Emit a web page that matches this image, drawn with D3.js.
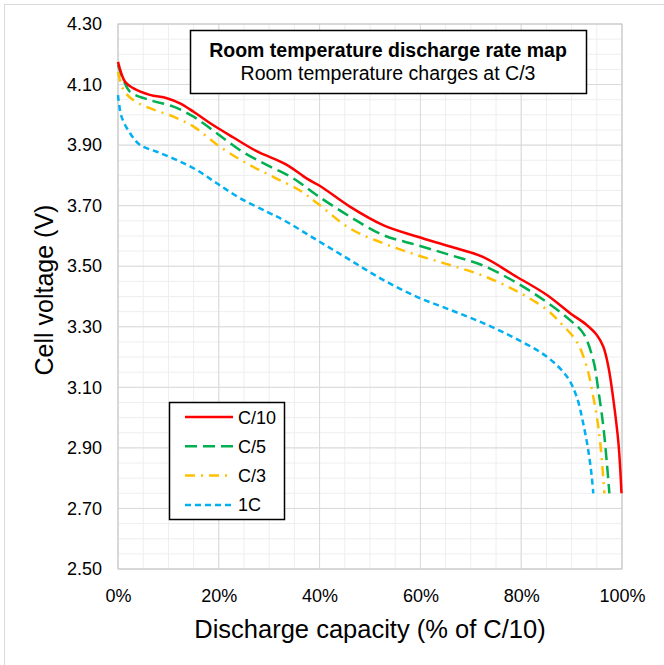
<!DOCTYPE html>
<html>
<head>
<meta charset="utf-8">
<script src="https://cdn.jsdelivr.net/npm/d3@7"></script>
<style>
  body { margin: 0; background: #fff; }
  text { font-family: "Liberation Sans", Arial, sans-serif; fill: #000; }
</style>
</head>
<body>
<svg id="chart" width="664" height="665"></svg>
<script>
const width = 664;
const height = 665;

// discharge capacity (% of C/10) and cell voltage (V)
const c10Cap = [0, 1.4, 3.0, 6.3, 9.7, 12.3, 15, 18.3, 22.9, 27.5, 33.5, 37.4, 40.1, 46.0, 52.6, 59.3, 65.9, 72.5, 78.4, 85.1, 89.7, 93.0, 95.0, 96.3, 97.3, 98.3, 99.3, 99.9];
const c10Volt = [4.175, 4.109, 4.088, 4.066, 4.055, 4.038, 4.010, 3.972, 3.925, 3.880, 3.835, 3.790, 3.765, 3.697, 3.636, 3.598, 3.565, 3.530, 3.472, 3.405, 3.345, 3.306, 3.273, 3.234, 3.168, 3.058, 2.915, 2.750];

const c5Cap = [0, 1.1, 2.4, 6.3, 11, 15, 19.6, 24.5, 29.5, 34.8, 39.4, 46, 52.6, 59.3, 65.9, 72.5, 79.1, 84.4, 89.7, 92.3, 94.3, 95.3, 96.3, 97.0, 97.5];
const c5Volt = [4.165, 4.115, 4.076, 4.049, 4.027, 3.994, 3.939, 3.880, 3.835, 3.790, 3.735, 3.664, 3.603, 3.570, 3.537, 3.502, 3.445, 3.389, 3.322, 3.279, 3.190, 3.091, 2.970, 2.849, 2.750];

const c3Cap = [0, 1.1, 3.0, 6.3, 11, 15, 20.2, 25.5, 30.8, 36.1, 39.4, 46, 52.6, 59.3, 65.9, 72.5, 79.1, 85.1, 87.5, 91, 93, 94.3, 95.3, 96, 96.5];
const c3Volt = [4.142, 4.082, 4.049, 4.022, 3.994, 3.961, 3.895, 3.840, 3.795, 3.750, 3.710, 3.625, 3.576, 3.537, 3.504, 3.468, 3.418, 3.356, 3.318, 3.251, 3.168, 3.069, 2.970, 2.860, 2.750];

const c1Cap = [0, 0.7, 2.4, 4.4, 7.7, 11.6, 15.6, 19.6, 24.2, 29.5, 32.8, 39.4, 46, 52.6, 59.3, 65.9, 72.5, 78.8, 85.1, 89.1, 91, 92.3, 93.3, 94, 94.3];
const c1Volt = [4.065, 3.994, 3.939, 3.900, 3.878, 3.851, 3.818, 3.774, 3.725, 3.680, 3.653, 3.587, 3.521, 3.455, 3.399, 3.356, 3.312, 3.262, 3.201, 3.135, 3.069, 2.981, 2.893, 2.805, 2.750];

const seriesNames = ["C/10", "C/5", "C/3", "1C"];
const seriesColors = ["#ff0000", "#00b050", "#ffc000", "#00b0f0"];
const seriesDash = [null, "12,6", "10,6,2,6", "6,4"];
const xTicks = [0, 20, 40, 60, 80, 100];
const yTicks = [2.5, 2.7, 2.9, 3.1, 3.3, 3.5, 3.7, 3.9, 4.1, 4.3];

const series = [
  { cap: c10Cap, volt: c10Volt },
  { cap: c5Cap, volt: c5Volt },
  { cap: c3Cap, volt: c3Volt },
  { cap: c1Cap, volt: c1Volt }
];

const plot = { left: 118, right: 622, top: 24, bottom: 569 };

const x = d3.scaleLinear().domain([0, 100]).range([plot.left, plot.right]);
const y = d3.scaleLinear().domain([2.5, 4.3]).range([plot.bottom, plot.top]);

const svg = d3.select('#chart');

// outer frame
svg.append('rect')
  .attr('x', 4.5).attr('y', 4.5)
  .attr('width', 700).attr('height', 700)
  .attr('fill', 'none').attr('stroke', '#d9d9d9');

// minor grid
svg.append('g')
  .selectAll('line')
  .data(d3.range(0, 101, 5))
  .join('line')
    .attr('x1', d => x(d)).attr('x2', d => x(d))
    .attr('y1', plot.top).attr('y2', plot.bottom)
    .attr('stroke', '#eeeeee');

svg.append('g')
  .selectAll('line')
  .data(d3.range(0, 37).map(i => 2.5 + i * 0.05))
  .join('line')
    .attr('x1', plot.left).attr('x2', plot.right)
    .attr('y1', d => y(d)).attr('y2', d => y(d))
    .attr('stroke', '#eeeeee');

// major grid
svg.append('g')
  .selectAll('line')
  .data(xTicks)
  .join('line')
    .attr('x1', d => x(d)).attr('x2', d => x(d))
    .attr('y1', plot.top).attr('y2', plot.bottom)
    .attr('stroke', '#d9d9d9');

svg.append('g')
  .selectAll('line')
  .data(yTicks)
  .join('line')
    .attr('x1', plot.left).attr('x2', plot.right)
    .attr('y1', d => y(d)).attr('y2', d => y(d))
    .attr('stroke', '#d9d9d9');

svg.append('rect')
  .attr('x', plot.left).attr('y', plot.top)
  .attr('width', plot.right - plot.left).attr('height', plot.bottom - plot.top)
  .attr('fill', 'none').attr('stroke', '#c8c8c8');

// axes (labels only, no domain/ticks drawn)
const xAxis = svg.append('g')
  .attr('transform', `translate(0,${plot.bottom})`)
  .call(d3.axisBottom(x).tickValues(xTicks).tickFormat(d => d + '%').tickSize(0).tickPadding(20));
const yAxis = svg.append('g')
  .attr('transform', `translate(${plot.left},0)`)
  .call(d3.axisLeft(y).tickValues(yTicks).tickFormat(d3.format('.2f')).tickSize(0).tickPadding(16));
[xAxis, yAxis].forEach(a => {
  a.select('.domain').remove();
  a.selectAll('text')
    .attr('font-family', '"Liberation Sans", Arial, sans-serif')
    .attr('font-size', 18)
    .attr('fill', '#000');
});

// axis titles
svg.append('text')
  .attr('x', (plot.left + plot.right) / 2)
  .attr('y', 638)
  .attr('text-anchor', 'middle')
  .attr('font-size', 25.5)
  .text('Discharge capacity (% of C/10)');

svg.append('text')
  .attr('transform', 'translate(53,290) rotate(-90)')
  .attr('text-anchor', 'middle')
  .attr('font-size', 25)
  .text('Cell voltage (V)');

// curves
const line = d3.line()
  .x(d => x(d[0]))
  .y(d => y(d[1]))
  .curve(d3.curveCatmullRom.alpha(0.5));

svg.append('g')
  .attr('fill', 'none')
  .selectAll('path')
  .data(series.slice().reverse())
  .join('path')
    .attr('d', s => line(s.cap.map((c, i) => [c, s.volt[i]])))
    .attr('stroke', (s, i) => seriesColors[3 - i])
    .attr('stroke-width', 2.5)
    .attr('stroke-dasharray', (s, i) => seriesDash[3 - i]);

// title box
svg.append('rect')
  .attr('x', 190.5).attr('y', 30.5)
  .attr('width', 396).attr('height', 63)
  .attr('fill', '#fff').attr('stroke', '#000').attr('stroke-width', 1.5);

svg.append('text')
  .attr('x', 388).attr('y', 57)
  .attr('text-anchor', 'middle')
  .attr('font-size', 19.5).attr('font-weight', 'bold')
  .text('Room temperature discharge rate map');

svg.append('text')
  .attr('x', 388).attr('y', 80)
  .attr('text-anchor', 'middle')
  .attr('font-size', 19.5)
  .text('Room temperature charges at C/3');

// legend
const legend = svg.append('g');
legend.append('rect')
  .attr('x', 169.5).attr('y', 402.5)
  .attr('width', 115).attr('height', 117)
  .attr('fill', '#fff').attr('stroke', '#000').attr('stroke-width', 1.5);

const items = legend.selectAll('g.item')
  .data(seriesNames)
  .join('g')
    .attr('class', 'item')
    .attr('transform', (d, i) => `translate(0,${417 + i * 29.3})`);

items.append('line')
  .attr('x1', 185).attr('x2', 233)
  .attr('stroke', (d, i) => seriesColors[i])
  .attr('stroke-width', 2.5)
  .attr('stroke-dasharray', (d, i) => seriesDash[i]);

items.append('text')
  .attr('x', 238).attr('y', 6.5)
  .attr('font-size', 18)
  .text(d => d);
</script>
</body>
</html>
